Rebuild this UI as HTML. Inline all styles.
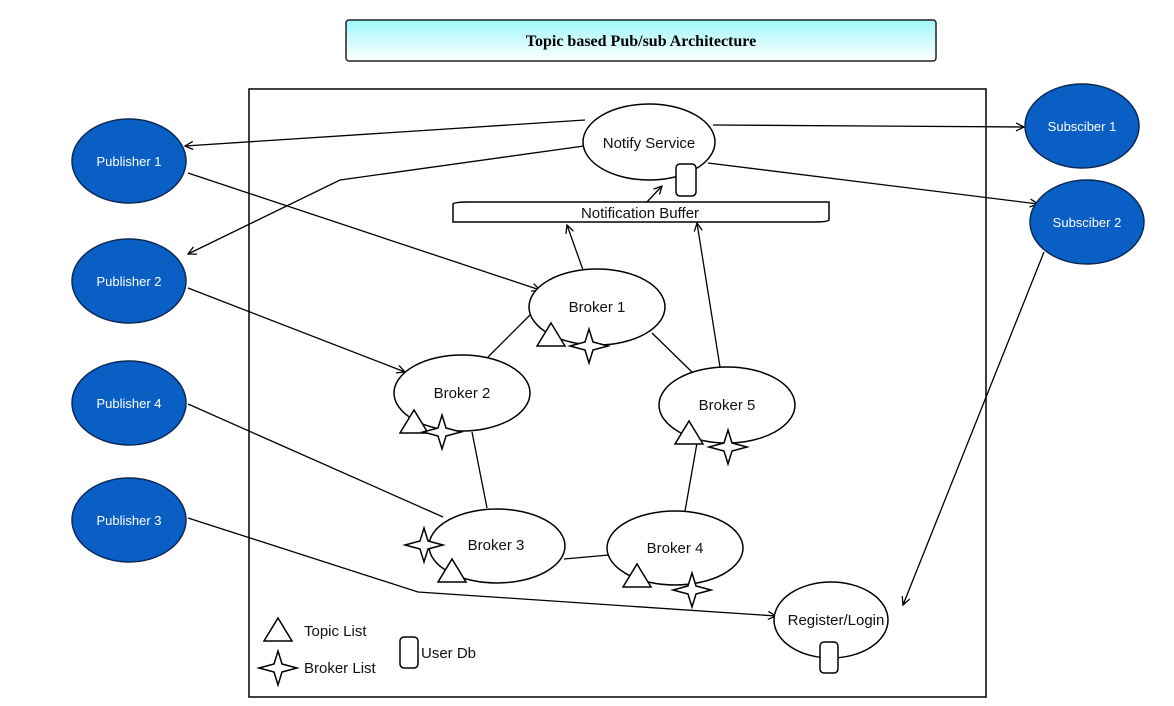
<!DOCTYPE html>
<html><head><meta charset="utf-8"><style>
html,body{margin:0;padding:0;background:#fff;}
svg{display:block;}
text{font-family:"Liberation Sans",Arial,sans-serif;}
</style></head><body>
<svg width="1174" height="706" viewBox="0 0 1174 706" xmlns="http://www.w3.org/2000/svg">
<defs>
<linearGradient id="g" x1="0" y1="0" x2="0" y2="1"><stop offset="0" stop-color="#9ff8fb"/><stop offset="1" stop-color="#ffffff"/></linearGradient>
<marker id="a" markerWidth="10" markerHeight="10" refX="9" refY="5" orient="auto" markerUnits="userSpaceOnUse"><path d="M1,1 L9,5 L1,9" fill="none" stroke="#000" stroke-width="1.3"/></marker>
<path id="st" d="M0,-17 L4,-4 L19,0 L4,4 L0,17 L-4,4 L-19,0 L-4,-4 Z" fill="#fff" stroke="#000" stroke-width="1.5"/>
<path id="tr" d="M0,-12 L14,11 L-14,11 Z" fill="#fff" stroke="#000" stroke-width="1.5"/>
</defs>
<rect x="346" y="20" width="590" height="41" rx="3" fill="url(#g)" stroke="#222" stroke-width="1.5"/>
<text x="641" y="46" text-anchor="middle" font-weight="bold" font-size="16" style="font-family:'Liberation Serif',serif">Topic based Pub/sub Architecture</text>
<rect x="249" y="89" width="737" height="608" fill="none" stroke="#000" stroke-width="1.5"/>
<g fill="none" stroke="#000" stroke-width="1.3">
<line x1="585" y1="120" x2="185" y2="146" marker-end="url(#a)"/>
<polyline points="584,146 340,180 188,254" marker-end="url(#a)"/>
<line x1="713" y1="125" x2="1024" y2="127" marker-end="url(#a)"/>
<line x1="708" y1="163" x2="1038" y2="204" marker-end="url(#a)"/>
<line x1="188" y1="173" x2="540" y2="290" marker-end="url(#a)"/>
<line x1="188" y1="288" x2="405" y2="372" marker-end="url(#a)"/>
<line x1="188" y1="404" x2="443" y2="517"/>
<polyline points="188,518 418,592 776,616" marker-end="url(#a)"/>
<line x1="1044" y1="252" x2="903" y2="605" marker-end="url(#a)"/>
<line x1="583" y1="270" x2="567" y2="225" marker-end="url(#a)"/>
<line x1="720" y1="367" x2="697" y2="223" marker-end="url(#a)"/>
<line x1="646" y1="203" x2="662" y2="186" marker-end="url(#a)"/>
<line x1="533" y1="312" x2="488" y2="357"/>
<line x1="652" y1="333" x2="693" y2="373"/>
<line x1="472" y1="432" x2="487" y2="508"/>
<line x1="697" y1="443" x2="685" y2="511"/>
<line x1="564" y1="559" x2="609" y2="555"/>
</g>
<g fill="#0a5fc4" stroke="#0a2a55" stroke-width="1.5">
<ellipse cx="129" cy="161" rx="57" ry="42"/>
<ellipse cx="129" cy="281" rx="57" ry="42"/>
<ellipse cx="129" cy="403" rx="57" ry="42"/>
<ellipse cx="129" cy="520" rx="57" ry="42"/>
<ellipse cx="1082" cy="126" rx="57" ry="42"/>
<ellipse cx="1087" cy="222" rx="57" ry="42"/>
</g>
<g fill="#fff" font-size="13" text-anchor="middle">
<text x="129" y="166">Publisher 1</text>
<text x="129" y="286">Publisher 2</text>
<text x="129" y="408">Publisher 4</text>
<text x="129" y="525">Publisher 3</text>
<text x="1082" y="131">Subsciber 1</text>
<text x="1087" y="227">Subsciber 2</text>
</g>
<g fill="#fff" stroke="#000" stroke-width="1.5">
<ellipse cx="649" cy="142" rx="66" ry="38"/>
<rect x="676" y="164" width="20" height="32" rx="4"/>
<path d="M453,204 Q453,202 470,202 L829,202 L829,220 Q829,222 812,222 L453,222 Z"/>
<ellipse cx="597" cy="307" rx="68" ry="38"/>
<ellipse cx="462" cy="393" rx="68" ry="38"/>
<ellipse cx="727" cy="405" rx="68" ry="38"/>
<ellipse cx="497" cy="546" rx="68" ry="37"/>
<ellipse cx="675" cy="548" rx="68" ry="37"/>
<ellipse cx="831" cy="620" rx="57" ry="38"/>
<rect x="820" y="642" width="18" height="31" rx="4"/>
<rect x="400" y="637" width="18" height="31" rx="4"/>
</g>
<use href="#tr" x="551" y="335"/><use href="#st" x="589" y="346"/>
<use href="#tr" x="414" y="422"/><use href="#st" x="442" y="432"/>
<use href="#tr" x="689" y="433"/><use href="#st" x="728" y="447"/>
<use href="#st" x="424" y="545"/><use href="#tr" x="452" y="571"/>
<use href="#tr" x="637" y="576"/><use href="#st" x="692" y="590"/>
<use href="#tr" x="278" y="630"/><use href="#st" x="278" y="668"/>
<g font-size="15" text-anchor="middle" fill="#111">
<text x="649" y="148">Notify Service</text>
<text x="640" y="218" font-size="15">Notification Buffer</text>
<text x="597" y="312">Broker 1</text>
<text x="462" y="398">Broker 2</text>
<text x="727" y="410">Broker 5</text>
<text x="496" y="550">Broker 3</text>
<text x="675" y="553">Broker 4</text>
<text x="836" y="625">Register/Login</text>
</g>
<g font-size="15" fill="#111">
<text x="304" y="636">Topic List</text>
<text x="304" y="673">Broker List</text>
<text x="421" y="658">User Db</text>
</g>
</svg>
</body></html>
